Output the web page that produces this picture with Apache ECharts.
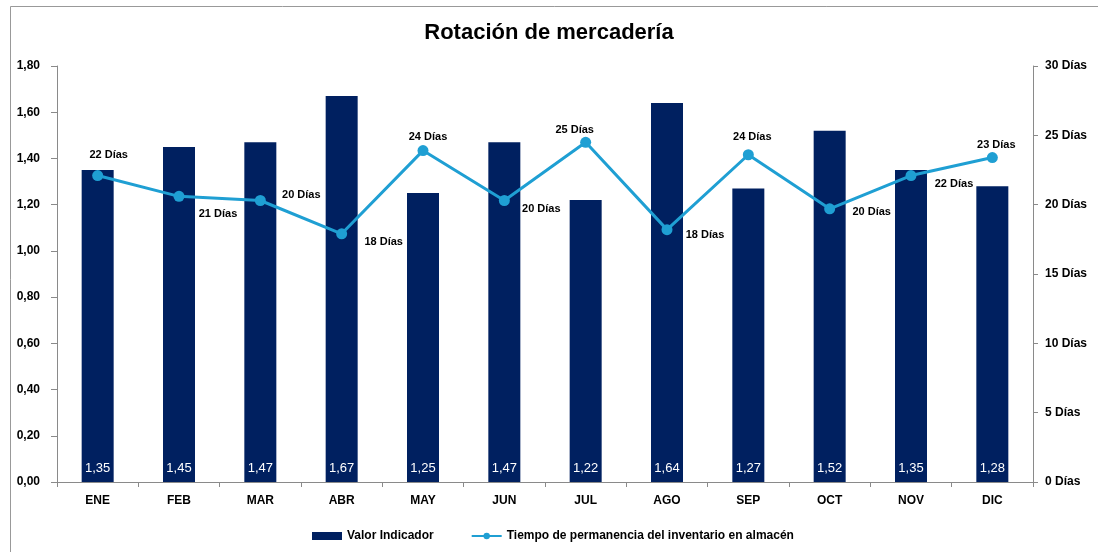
<!DOCTYPE html>
<html>
<head>
<meta charset="utf-8">
<script src="https://cdn.jsdelivr.net/npm/echarts@6/dist/echarts.min.js"></script>
<style>
  html, body { margin: 0; padding: 0; background: #fff; }
  #chart { width: 1098px; height: 552px; }
</style>
</head>
<body>
<div id="chart"></div>
<script>
// datos del gráfico
var meses = ['ENE', 'FEB', 'MAR', 'ABR', 'MAY', 'JUN', 'JUL', 'AGO', 'SEP', 'OCT', 'NOV', 'DIC']
var valorIndicador = [1.35, 1.45, 1.47, 1.67, 1.25, 1.47, 1.22, 1.64, 1.27, 1.52, 1.35, 1.28]
var tiempoDias = [22.1, 20.6, 20.3, 17.9, 23.9, 20.3, 24.5, 18.2, 23.6, 19.7, 22.1, 23.4]

// posición de las etiquetas de días (desplazamiento respecto al punto)
var offsetsEtiqueta = [
  [11, -21], [39, 18], [41, -6], [42, 8], [5, -14], [37, 8],
  [-11, -12], [38, 5], [4, -18], [42, 3], [43, 8], [4, -13]
]

var fuente = 'Liberation Sans'
var gris = '#8a8a8a'

var lineaData = tiempoDias.map(function (v, i) {
  return {
    value: v,
    label: { offset: offsetsEtiqueta[i] }
  }
})

var chart = echarts.init(document.getElementById('chart'))
var options = {
  animation: false,
  textStyle: { fontFamily: fuente },
  title: {
    text: 'Rotación de mercadería',
    left: 'center',
    top: 17,
    textStyle: { fontFamily: fuente, fontSize: 22, fontWeight: 'bold', color: '#000' }
  },
  graphic: [{
    type: 'rect',
    shape: { x: 10.5, y: 6.5, width: 1200, height: 700 },
    style: { fill: 'none', stroke: '#999', lineWidth: 1 },
    silent: true
  }],
  legend: {
    left: 307,
    top: 525,
    itemWidth: 30,
    itemHeight: 8,
    itemGap: 37,
    textStyle: { fontFamily: fuente, fontSize: 12, fontWeight: 'bold', color: '#000' },
    data: [
      { name: 'Valor Indicador', icon: 'rect' },
      { name: 'Tiempo de permanencia del inventario en almacén' }
    ]
  },
  grid: { left: 57, right: 65, top: 66, bottom: 70 },
  xAxis: [{
    type: 'category',
    data: meses,
    axisLine: { lineStyle: { color: gris } },
    axisTick: { show: true, length: 5, lineStyle: { color: gris } },
    axisLabel: { margin: 13, fontFamily: fuente, fontSize: 12, fontWeight: 'bold', color: '#000' }
  }],
  yAxis: [{
    type: 'value',
    min: 0,
    max: 1.8,
    interval: 0.2,
    splitLine: { show: false },
    axisLine: { show: true, lineStyle: { color: gris } },
    axisTick: { show: true, length: 6, lineStyle: { color: gris } },
    axisLabel: {
      margin: 17,
      fontFamily: fuente, fontSize: 12, fontWeight: 'bold', color: '#000',
      formatter: function (v) { return v.toFixed(2).replace('.', ',') }
    }
  }, {
    type: 'value',
    min: 0,
    max: 30,
    interval: 5,
    splitLine: { show: false },
    axisLine: { show: true, lineStyle: { color: gris } },
    axisTick: { show: true, length: 5, lineStyle: { color: gris } },
    axisLabel: {
      margin: 12,
      fontFamily: fuente, fontSize: 12, fontWeight: 'bold', color: '#000',
      formatter: '{value} Días'
    }
  }],
  series: [{
    name: 'Valor Indicador',
    type: 'bar',
    barWidth: 32,
    data: valorIndicador,
    itemStyle: { color: '#002060' },
    label: {
      show: true,
      position: 'insideBottom',
      distance: 7,
      color: '#fff',
      fontFamily: fuente,
      fontSize: 13,
      formatter: function (p) { return p.value.toFixed(2).replace('.', ',') }
    }
  }, {
    name: 'Tiempo de permanencia del inventario en almacén',
    type: 'line',
    yAxisIndex: 1,
    data: lineaData,
    symbol: 'circle',
    symbolSize: 11,
    lineStyle: { color: '#1f9fd3', width: 3 },
    itemStyle: { color: '#1f9fd3' },
    label: {
      show: true,
      position: 'inside',
      align: 'center',
      verticalAlign: 'middle',
      color: '#000',
      fontFamily: fuente,
      fontSize: 11,
      fontWeight: 'bold',
      formatter: function (p) { return Math.round(p.value) + ' Días' }
    }
  }]
}
chart.setOption(options)
</script>
</body>
</html>
